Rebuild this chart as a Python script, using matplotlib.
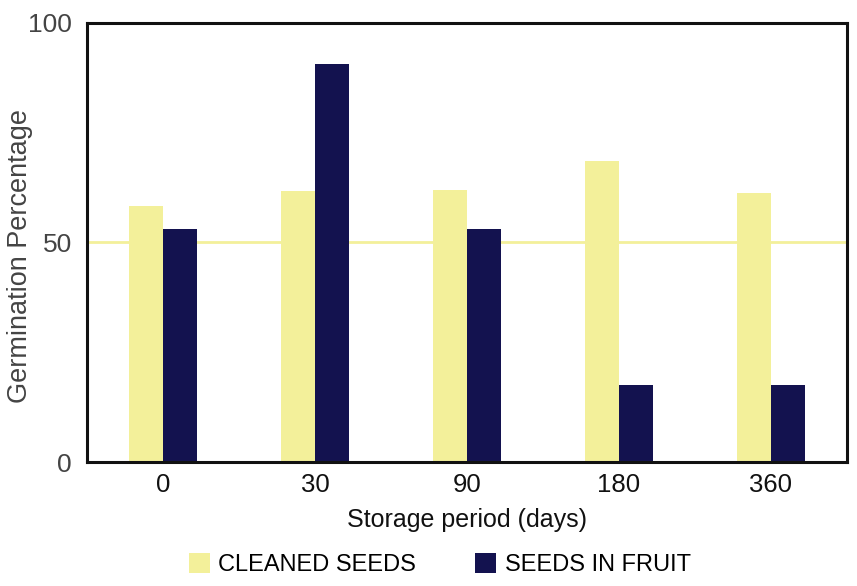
import numpy as np
import matplotlib.pyplot as plt

plt.rcParams['font.family'] = ['Liberation Sans', 'DejaVu Sans']

periods = ["0", "30", "90", "180", "360"]
cleaned = [58.3, 61.8, 62.0, 68.6, 61.3]
in_fruit = [53.0, 90.7, 53.0, 17.6, 17.6]
yticks = [0, 50, 100]

yellow = "#F3F09A"
navy = "#13124F"

fig = plt.figure(figsize=(8.57, 5.86), dpi=100)
ax = fig.add_axes([0.1015, 0.2116, 0.8865, 0.7492])

x = np.arange(len(periods))
w = 0.225
ax.axhline(50, color=yellow, lw=2, zorder=1)
ax.bar(x - w / 2, cleaned, width=w, color=yellow, zorder=2, label="CLEANED SEEDS")
ax.bar(x + w / 2, in_fruit, width=w, color=navy, zorder=2, label="SEEDS IN FRUIT")

ax.set_xlim(-0.5, len(periods) - 0.5)
ax.set_ylim(0, 100)
ax.set_xticks(x)
ax.set_xticklabels(periods, fontsize=18.5, color="#111111")
ax.set_yticks(yticks)
ax.set_yticklabels([str(t) for t in yticks], fontsize=19, color="#444444")
ax.tick_params(axis="both", length=0)
ax.tick_params(axis="x", pad=8)
ax.tick_params(axis="y", pad=11)
for s in ax.spines.values():
    s.set_linewidth(2.2)
    s.set_color("#111111")

ax.set_xlabel("Storage period (days)", fontsize=18, color="#111111", labelpad=8)
ax.set_ylabel("Germination Percentage", fontsize=19.5, color="#444444")
ax.yaxis.set_label_coords(-0.071, 0.47)

handles, labels = ax.get_legend_handles_labels()
fig.legend(handles, labels, loc="center", bbox_to_anchor=(0.513, 0.036), ncol=2,
           frameon=False, fontsize=17, handlelength=0.9, handleheight=0.9,
           handletextpad=0.35, columnspacing=2.5)

fig.savefig("out.png", dpi=100)
